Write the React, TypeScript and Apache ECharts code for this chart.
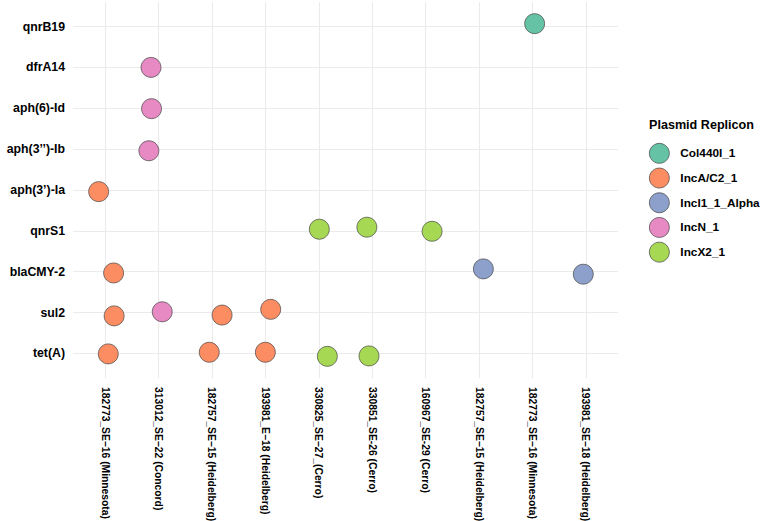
import React, { useEffect, useRef } from "react";
import * as echarts from "echarts";

// Isolates along the x axis (left to right)
const isolates = [
  "182773_SE\u221216 (Minnesota)",
  "313012_SE\u221222 (Concord)",
  "182757_SE\u221215 (Heidelberg)",
  "193981_E\u221218 (Heidelberg)",
  "330825_SE\u221227_(Cerro)",
  "330851_SE-26 (Cerro)",
  "160967_SE-29 (Cerro)",
  "182757_SE\u221215 (Heidelberg)",
  "182773_SE\u221216 (Minnesota)",
  "193981_SE\u221218 (Heidelberg)",
];

// Resistance genes along the y axis (bottom to top)
const genes = [
  "tet(A)",
  "sul2",
  "blaCMY-2",
  "qnrS1",
  "aph(3\u2019)-Ia",
  "aph(3\u2019\u2019)-Ib",
  "aph(6)-Id",
  "dfrA14",
  "qnrB19",
];

const replicons = ["Col440I_1", "IncA/C2_1", "IncI1_1_Alpha", "IncN_1", "IncX2_1"];
const repliconColors = ["#66C2A5", "#FC8D62", "#8DA0CB", "#E78AC3", "#A6D854"];

// Each detected gene: isolate index, gene index, replicon index and plotted jitter
const hitIsolate = [8, 1, 1, 1, 0, 4, 5, 6, 0, 7, 9, 0, 1, 2, 3, 0, 2, 3, 4, 5];
const hitGene = [8, 7, 6, 5, 4, 3, 3, 3, 2, 2, 2, 1, 1, 1, 1, 0, 0, 0, 0, 0];
const hitReplicon = [0, 3, 3, 3, 1, 4, 4, 4, 1, 2, 2, 1, 3, 1, 1, 1, 1, 1, 4, 4];
const jitterX = [0.04, -0.14, -0.13, -0.18, -0.12, 0.01, -0.1, 0.12, 0.16, 0.08, -0.05, 0.17, 0.07, 0.19, 0.1, 0.06, -0.05, 0.0, 0.16, -0.06];
const jitterY = [0.07, 0.0, -0.01, -0.04, -0.04, 0.04, 0.09, -0.01, -0.03, 0.07, -0.06, -0.08, 0.02, -0.06, 0.08, -0.01, 0.03, 0.03, -0.07, -0.06];

const FONT = "'Liberation Sans', Arial, Helvetica, sans-serif";

export default function App() {
  const ref = useRef<HTMLDivElement>(null);

  useEffect(() => {
    if (!ref.current) return;
    const chart = echarts.init(ref.current, null, { renderer: "svg" });

    const xTicks = isolates.map((_, i) => i + 1);
    const yTicks = genes.map((_, i) => i + 1);

    const series = replicons.map((name, r) => {
      const data: number[][] = [];
      hitReplicon.forEach((rep, k) => {
        if (rep === r) {
          data.push([hitIsolate[k] + 1 + jitterX[k], hitGene[k] + 1 + jitterY[k]]);
        }
      });
      return {
        name,
        type: "scatter",
        data,
        symbol: "circle",
        symbolSize: 20,
        itemStyle: {
          color: repliconColors[r],
          borderColor: "#444444",
          borderWidth: 0.7,
          opacity: 1,
        },
        emphasis: { disabled: true },
      };
    });

    chart.setOption({
      animation: false,
      backgroundColor: "#ffffff",
      grid: {
        left: 73,
        right: 149,
        top: 2,
        bottom: 143,
        containLabel: false,
        outerBoundsMode: "none",
      },
      xAxis: {
        type: "value",
        min: 0.4,
        max: 10.6,
        axisLine: { show: false },
        axisTick: { show: false, customValues: xTicks },
        splitLine: { show: true, lineStyle: { color: "#EBEBEB", width: 1.1 } },
        axisLabel: {
          customValues: xTicks,
          rotate: -90,
          margin: 9,
          color: "#000",
          fontWeight: "bold",
          fontSize: 10.3,
          fontFamily: FONT,
          formatter: (v: number) => isolates[Math.round(v) - 1] ?? "",
        },
      },
      yAxis: {
        type: "value",
        min: 0.4,
        max: 9.6,
        axisLine: { show: false },
        axisTick: { show: false, customValues: yTicks },
        splitLine: { show: true, lineStyle: { color: "#EBEBEB", width: 1.1 } },
        axisLabel: {
          customValues: yTicks,
          margin: 8,
          color: "#000",
          fontWeight: "bold",
          fontSize: 12.3,
          fontFamily: FONT,
          formatter: (v: number) => genes[Math.round(v) - 1] ?? "",
        },
      },
      legend: {
        orient: "vertical",
        left: 649,
        top: 143,
        padding: 0,
        itemWidth: 20,
        itemHeight: 20,
        itemGap: 4,
        icon: "circle",
        data: replicons,
        selectedMode: false,
        itemStyle: { borderColor: "#444444", borderWidth: 0.7 },
        textStyle: {
          color: "#000",
          fontWeight: "bold",
          fontSize: 11.8,
          fontFamily: FONT,
          padding: [0, 0, 0, 6],
        },
      },
      graphic: [
        {
          type: "text",
          left: 649,
          top: 118,
          style: {
            text: "Plasmid Replicon",
            fill: "#000",
            font: `bold 12.6px ${FONT}`,
          },
        },
      ],
      series,
    });

    return () => chart.dispose();
  }, []);

  return (
    <div
      ref={ref}
      style={{ position: "fixed", left: 0, top: 0, width: 767, height: 521 }}
    />
  );
}
